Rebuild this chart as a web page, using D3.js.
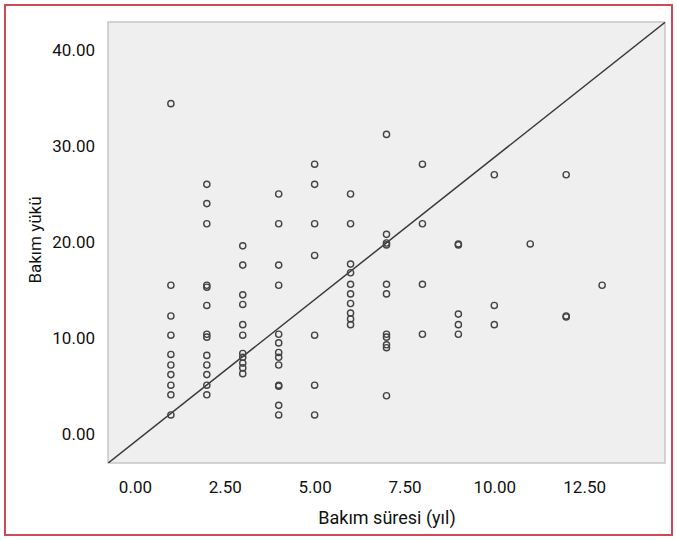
<!DOCTYPE html>
<html>
<head>
<meta charset="utf-8">
<script src="https://cdn.jsdelivr.net/npm/d3@7"></script>
<style>
  body { margin: 0; background: #fff; }
  svg text { font-family: "Roboto", sans-serif; fill: #111; }
</style>
</head>
<body>
<div id="chart"></div>
<script>
// Bakım süresi vs Bakım yükü scatter plot

// Data, grouped by care duration (years)
const durations = [
    1, 1, 1, 1, 1, 1, 1, 1, 1, 1,
    2, 2, 2, 2, 2, 2, 2, 2, 2, 2, 2, 2, 2,
    3, 3, 3, 3, 3, 3, 3, 3, 3, 3, 3,
    4, 4, 4, 4, 4, 4, 4, 4, 4, 4, 4, 4, 4,
    5, 5, 5, 5, 5, 5, 5,
    6, 6, 6, 6, 6, 6, 6, 6, 6, 6,
    7, 7, 7, 7, 7, 7, 7, 7, 7, 7, 7,
    8, 8, 8, 8,
    9, 9, 9, 9, 9,
    10, 10, 10,
    11,
    12, 12, 12,
    13
];
const loads = [
    34.4, 15.5, 12.3, 10.3, 8.3, 7.2, 6.2, 5.1, 4.1, 2.0,
    26.0, 24.0, 21.9, 15.5, 15.3, 13.4, 10.4, 10.1, 8.2, 7.2, 6.2, 5.1, 4.1,
    19.6, 17.6, 14.5, 13.5, 11.4, 10.3, 8.4, 8.0, 7.4, 6.9, 6.3,
    25.0, 21.9, 17.6, 15.5, 10.4, 9.5, 8.5, 8.0, 7.2, 5.1, 5.0, 3.0, 2.0,
    28.1, 26.0, 21.9, 18.6, 10.3, 5.1, 2.0,
    25.0, 21.9, 17.7, 16.8, 15.6, 14.6, 13.6, 12.6, 12.0, 11.4,
    31.2, 20.8, 19.9, 19.7, 15.6, 14.6, 10.4, 10.1, 9.3, 9.0, 4.0,
    28.1, 21.9, 15.6, 10.4,
    19.8, 19.7, 12.5, 11.4, 10.4,
    27.0, 13.4, 11.4,
    19.8,
    27.0, 12.3, 12.2,
    15.5
];

// Fit line
const lineIntercept = -0.8;
const lineSlope = 2.96;

// Tick values
const xTicks = [0, 2.5, 5, 7.5, 10, 12.5];
const yTicks = [0, 10, 20, 30, 40];

const W = 677, H = 540;
const frame = { left: 108, top: 22, right: 665, bottom: 463 };

const svg = d3.select('#chart')
    .append('svg')
    .attr('width', W)
    .attr('height', H);

// Outer red border
svg.append('rect')
    .attr('x', 5)
    .attr('y', 5)
    .attr('width', W - 10)
    .attr('height', H - 10)
    .attr('fill', '#fff')
    .attr('stroke', '#cc4a57')
    .attr('stroke-width', 2);

const xScale = d3.scaleLinear()
    .domain([-0.75, 14.75])
    .range([frame.left, frame.right]);

const yScale = d3.scaleLinear()
    .domain([-3.0, 42.9])
    .range([frame.bottom, frame.top]);

// Plot background
svg.append('rect')
    .attr('x', frame.left)
    .attr('y', frame.top)
    .attr('width', frame.right - frame.left)
    .attr('height', frame.bottom - frame.top)
    .attr('fill', '#efefef')
    .attr('stroke', '#c6c6c6')
    .attr('stroke-width', 1.5);

svg.append('clipPath')
    .attr('id', 'plot-clip')
    .append('rect')
    .attr('x', frame.left)
    .attr('y', frame.top)
    .attr('width', frame.right - frame.left)
    .attr('height', frame.bottom - frame.top);

// Axes
const xAxis = d3.axisBottom(xScale)
    .tickValues(xTicks)
    .tickSize(0)
    .tickPadding(18)
    .tickFormat(d3.format('.2f'));

const yAxis = d3.axisLeft(yScale)
    .tickValues(yTicks)
    .tickSize(0)
    .tickPadding(13)
    .tickFormat(d3.format('.2f'));

svg.append('g')
    .attr('transform', `translate(0, ${frame.bottom})`)
    .call(xAxis)
    .call(g => g.select('.domain').remove())
    .selectAll('text')
    .style('font-size', '17px');

svg.append('g')
    .attr('transform', `translate(${frame.left}, 0)`)
    .call(yAxis)
    .call(g => g.select('.domain').remove())
    .selectAll('text')
    .style('font-size', '17px');

// Axis titles
svg.append('text')
    .attr('x', 387)
    .attr('y', 524)
    .attr('text-anchor', 'middle')
    .style('font-size', '18px')
    .text('Bakım süresi (yıl)');

svg.append('text')
    .attr('transform', 'rotate(-90)')
    .attr('x', -240)
    .attr('y', 41)
    .attr('text-anchor', 'middle')
    .style('font-size', '17px')
    .text('Bakım yükü');

// Line
const xDom = xScale.domain();
svg.append('line')
    .attr('clip-path', 'url(#plot-clip)')
    .attr('x1', xScale(xDom[0]))
    .attr('y1', yScale(lineIntercept + lineSlope * xDom[0]))
    .attr('x2', xScale(xDom[1]))
    .attr('y2', yScale(lineIntercept + lineSlope * xDom[1]))
    .attr('stroke', '#3a3a3a')
    .attr('stroke-width', 1.5);

// Points
svg.append('g')
    .selectAll('circle')
    .data(durations.map((d, i) => ({ x: d, y: loads[i] })))
    .enter()
    .append('circle')
    .attr('cx', d => xScale(d.x))
    .attr('cy', d => yScale(d.y))
    .attr('r', 3.1)
    .attr('fill', 'none')
    .attr('stroke', '#444')
    .attr('stroke-width', 1.4);
</script>
</body>
</html>
